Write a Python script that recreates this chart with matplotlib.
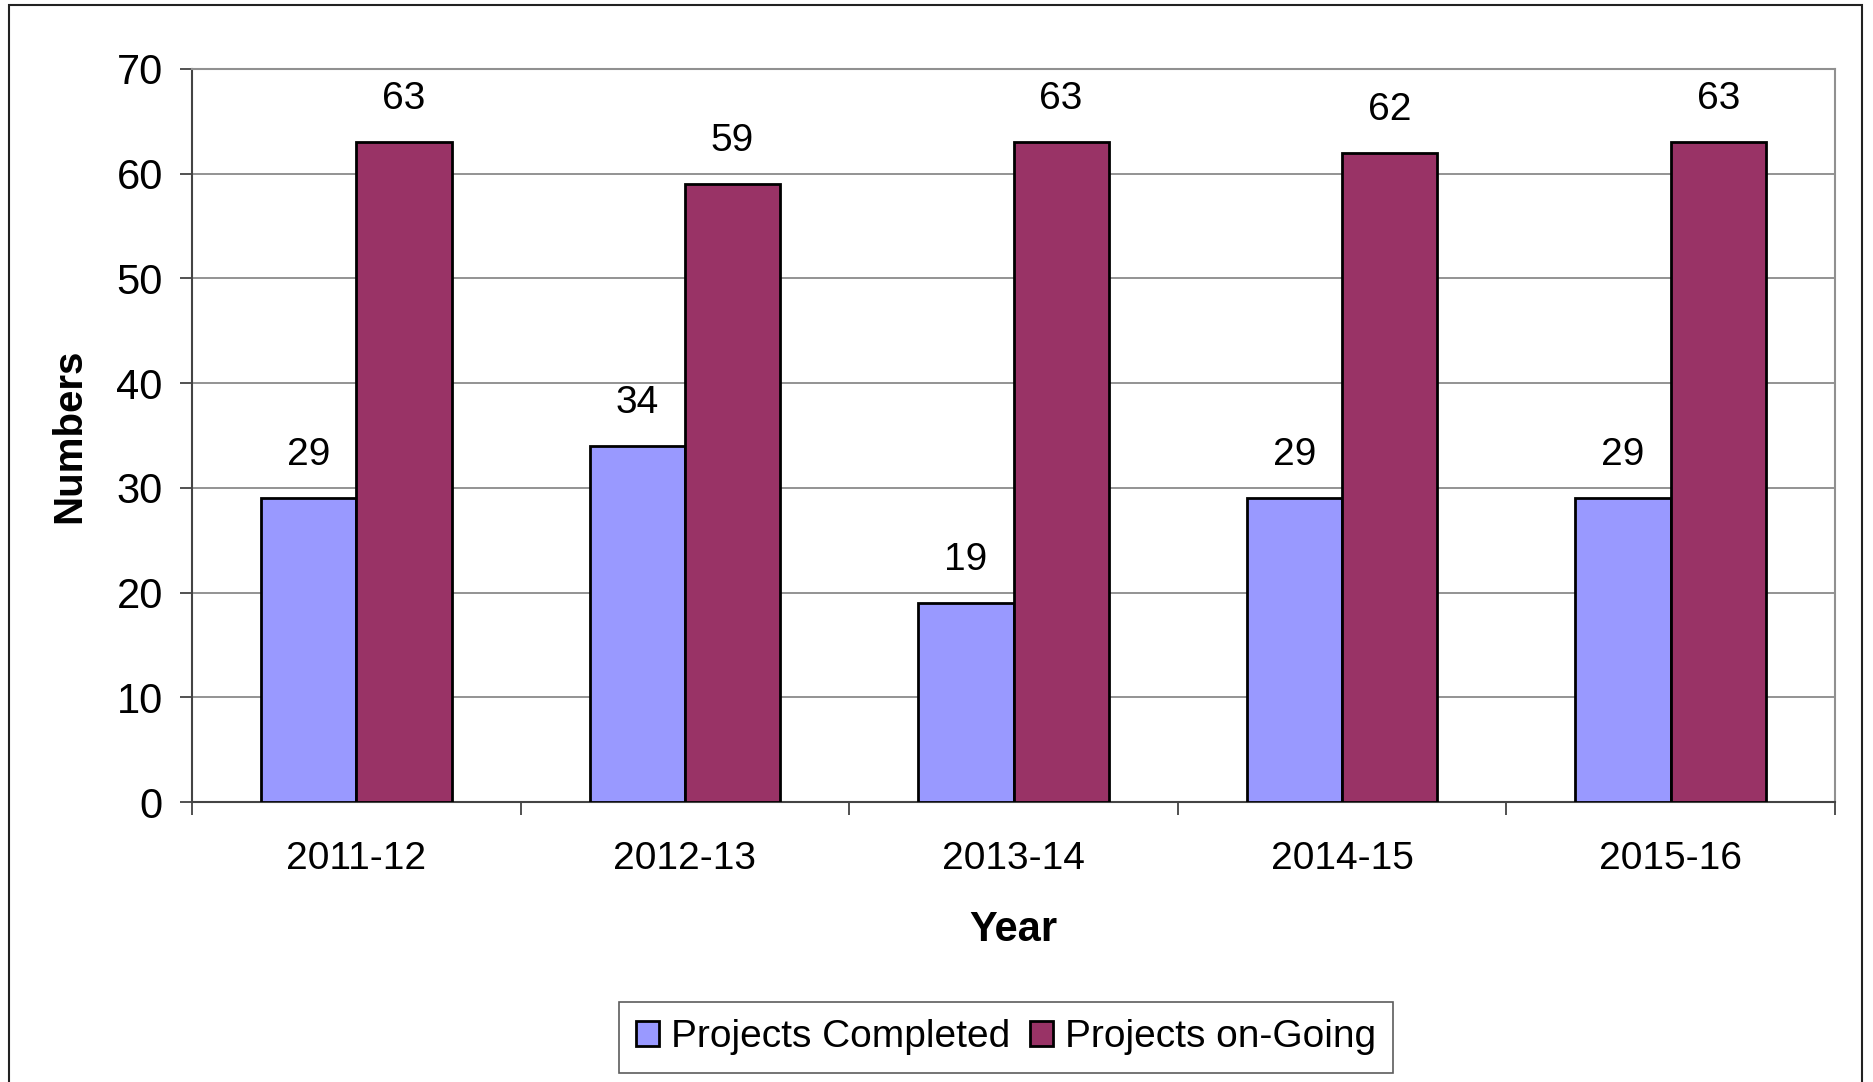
import matplotlib.pyplot as plt
import numpy as np
from matplotlib.patches import Rectangle

years = ["2011-12", "2012-13", "2013-14", "2014-15", "2015-16"]
completed = [29, 34, 19, 29, 29]
ongoing = [63, 59, 63, 62, 63]

plt.rcParams['font.family'] = ['Liberation Sans', 'DejaVu Sans']

W, H = 1873, 1082
fig = plt.figure(figsize=(W / 100, H / 100), dpi=100)
ax = fig.add_axes([192 / W, 1 - 802 / H, (1835 - 192) / W, (802 - 69) / H])

# outer chart border (bottom runs off the picture)
fig.patches.append(Rectangle((9 / W, -0.05), (1862 - 9) / W, 1 - 5 / H + 0.05,
                             transform=fig.transFigure, fill=False,
                             edgecolor="#222222", linewidth=1.5))

x = np.arange(len(years))
bw = 0.29
b1 = ax.bar(x - bw / 2, completed, bw, color="#9999FF", edgecolor="black",
            linewidth=2, label="Projects Completed", zorder=3)
b2 = ax.bar(x + bw / 2, ongoing, bw, color="#993366", edgecolor="black",
            linewidth=2, label="Projects on-Going", zorder=3)

for bars in (b1, b2):
    for r in bars:
        ax.annotate(str(int(r.get_height())), (r.get_x() + r.get_width() / 2, r.get_height()),
                    xytext=(0, 31), textcoords="offset points", ha="center", va="center",
                    fontsize=28)

ax.set_xlim(-0.5, 4.5)
ax.set_ylim(0, 70)
ax.set_yticks(range(0, 71, 10))
ax.yaxis.grid(True, color="#808080", linewidth=1.2, zorder=0)
ax.tick_params(axis="y", labelsize=30, length=9, width=1.2, color="#333333", pad=12)
ax.set_xticks(x)
ax.set_xticklabels(years)
ax.set_xticks(np.arange(-0.5, 5, 1), minor=True)
ax.tick_params(axis="x", which="major", length=0, labelsize=28, pad=28)
ax.tick_params(axis="x", which="minor", length=9, width=1.2, color="#333333")

ax.spines["left"].set_color("#444444")
ax.spines["bottom"].set_color("#444444")
ax.spines["top"].set_color("#909090")
ax.spines["right"].set_color("#909090")
for s in ax.spines.values():
    s.set_linewidth(1.5)

ax.set_xlabel("Year", fontsize=30, fontweight="bold", labelpad=24)
ax.set_ylabel("Numbers", fontsize=29, fontweight="bold", labelpad=20)

leg = fig.legend(handles=[b1, b2], loc="center", bbox_to_anchor=(1006 / W, 1 - 1037 / H),
                 ncol=2, fontsize=28, frameon=True, fancybox=False, edgecolor="#333333",
                 handlelength=0.6, handleheight=0.6, handletextpad=0.3, columnspacing=0.5,
                 borderpad=0.45)
leg.get_frame().set_linewidth(1.2)

plt.savefig("out.png", dpi=100)
